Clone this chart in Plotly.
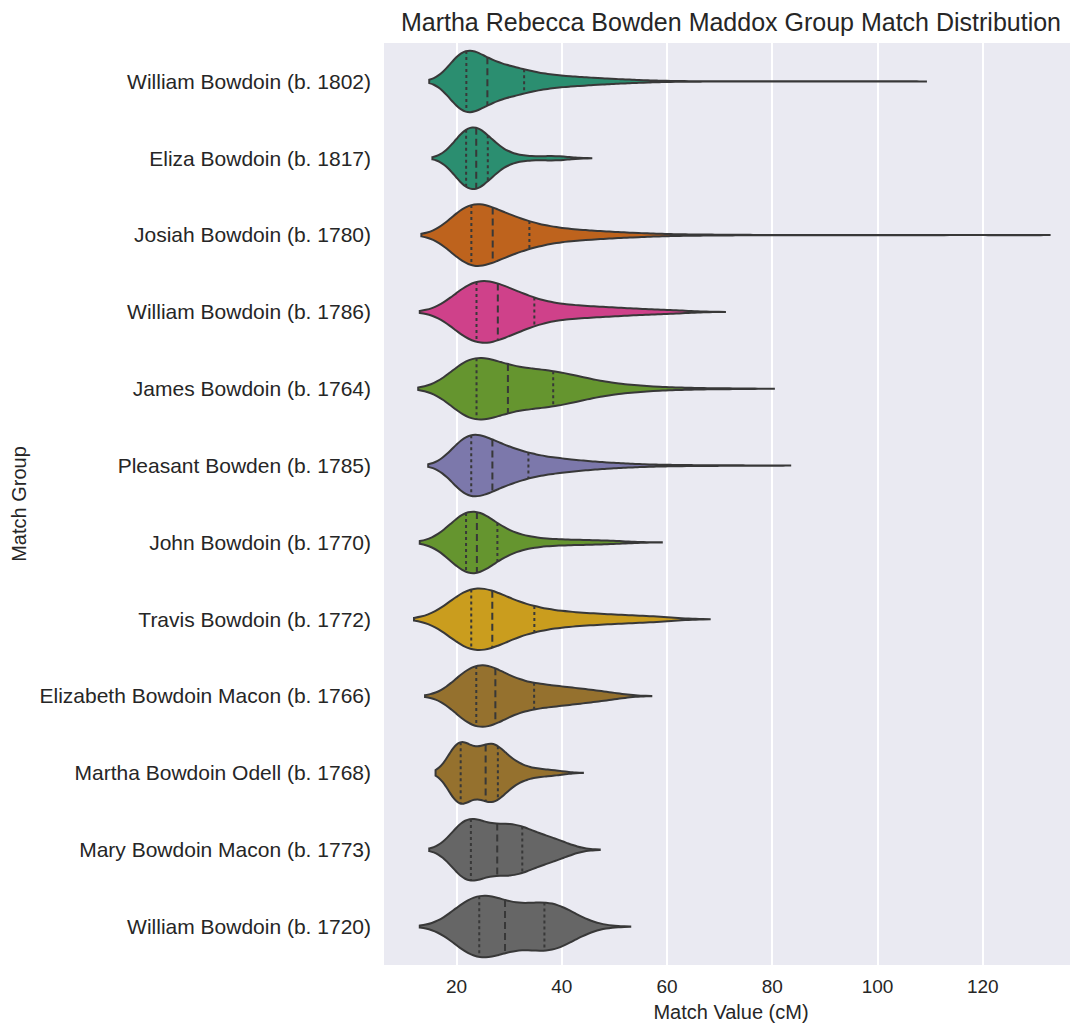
import colorsys
import math
import numpy as np
import plotly.graph_objects as go

# ---------------- data (value in cM, number of matches) ----------------
GROUPS = [
    "William Bowdoin (b. 1802)",
    "Eliza Bowdoin (b. 1817)",
    "Josiah Bowdoin (b. 1780)",
    "William Bowdoin (b. 1786)",
    "James Bowdoin (b. 1764)",
    "Pleasant Bowden (b. 1785)",
    "John Bowdoin (b. 1770)",
    "Travis Bowdoin (b. 1772)",
    "Elizabeth Bowdoin Macon (b. 1766)",
    "Martha Bowdoin Odell (b. 1768)",
    "Mary Bowdoin Macon (b. 1773)",
    "William Bowdoin (b. 1720)",
]

WILLIAM_1802 = [(20, 66), (21, 69), (22, 48), (23, 39), (24, 38), (25, 33), (26, 30), (27, 25), (28, 23),
                (29, 21), (30, 20), (31, 19), (32, 19), (33, 16), (34, 12), (35, 11), (36, 10), (37, 10),
                (38, 9), (39, 8), (40, 7), (41, 7), (42, 6), (43, 6), (44, 6), (45, 5), (46, 5), (47, 4),
                (48, 4), (49, 3), (50, 3), (51, 3), (52, 3), (53, 2), (54, 2), (55, 2), (56, 1), (57, 1),
                (58, 1), (59, 1), (60, 1), (62, 1), (65, 1), (69, 1), (74, 1), (80, 1), (88, 1), (96, 1),
                (104, 1)]
ELIZA_1817 = [(20, 40), (21, 44), (22, 52), (23, 52), (24, 52), (25, 48), (26, 28), (27, 20), (28, 14),
              (29, 10), (30, 6), (31, 4), (32, 4), (33, 3), (34, 2), (35, 2), (36, 2), (37, 3), (38, 4),
              (39, 4), (40, 4), (41, 2)]
JOSIAH_1780 = [(20, 38), (21, 39), (22, 39), (23, 33), (24, 33), (25, 31), (26, 30), (27, 25), (28, 22),
               (29, 20), (30, 18), (31, 17), (32, 15), (33, 14), (34, 12), (35, 10), (36, 9), (37, 8),
               (38, 7), (39, 7), (40, 6), (41, 6), (42, 5), (43, 5), (44, 5), (45, 4), (46, 4), (47, 4),
               (48, 3), (49, 3), (50, 3), (51, 3), (52, 2), (53, 2), (54, 2), (55, 2), (56, 2), (57, 1),
               (58, 1), (59, 1), (60, 1), (61, 1), (62, 1), (64, 1), (66, 1), (68, 1), (70, 1), (74, 1),
               (80, 1), (88, 1), (97, 1), (108, 1), (126, 1)]
WILLIAM_1786 = [(20, 28), (21, 29), (22, 30), (23, 31), (24, 32), (25, 32), (26, 33), (27, 31), (28, 24),
                (29, 22), (30, 20), (31, 19), (32, 17), (33, 16), (34, 14), (35, 11), (36, 8), (37, 8),
                (38, 7), (39, 7), (40, 7), (41, 6), (42, 6), (43, 6), (44, 5), (45, 5), (46, 5), (47, 5),
                (48, 4), (49, 4), (50, 4), (51, 4), (52, 3), (53, 3), (54, 3), (55, 3), (56, 2), (57, 2),
                (58, 2), (59, 2), (60, 2), (61, 2), (62, 2), (63, 1), (64, 1)]
JAMES_1764 = [(20, 27), (21, 29), (22, 30), (23, 31), (24, 28), (25, 24), (26, 22), (27, 20), (28, 18),
              (29, 17), (30, 16), (31, 15), (32, 15), (33, 15), (34, 14), (35, 14), (36, 14), (37, 14),
              (38, 14), (39, 13), (40, 13), (41, 11), (42, 10), (43, 9), (44, 8), (45, 7), (46, 6),
              (47, 6), (48, 5), (49, 4), (50, 4), (51, 3), (52, 3), (53, 3), (54, 2), (55, 2), (56, 2),
              (57, 2), (58, 1), (59, 1), (60, 1), (61, 1), (62, 1), (63, 1), (65, 1), (67, 1), (70, 1),
              (73, 1)]
PLEASANT_1785 = [(20, 38), (21, 39), (22, 39), (23, 33), (24, 33), (25, 31), (26, 30), (27, 25), (28, 22),
                 (29, 20), (30, 18), (31, 17), (32, 15), (33, 14), (34, 12), (35, 10), (36, 9), (37, 9),
                 (38, 8), (39, 8), (40, 7), (41, 7), (42, 6), (43, 5), (44, 5), (45, 4), (46, 4), (47, 4),
                 (48, 3), (49, 3), (50, 3), (51, 2), (52, 2), (53, 2), (54, 2), (55, 1), (56, 1), (57, 1),
                 (58, 1), (59, 1), (60, 1), (62, 1), (64, 1), (66, 1), (69, 1), (73, 1), (78, 1)]
JOHN_1770 = [(20, 52), (21, 55), (22, 62), (23, 62), (24, 55), (25, 38), (26, 28), (27, 20), (28, 15),
             (29, 14), (30, 12), (31, 10), (32, 8), (33, 7), (34, 6), (35, 5), (36, 4), (37, 4), (38, 4),
             (39, 4), (40, 4), (41, 3), (42, 3), (43, 3), (44, 3), (45, 3), (46, 3), (47, 3), (48, 3),
             (49, 2), (50, 2), (51, 2), (52, 2)]
TRAVIS_1772 = [(20, 37), (21, 39), (22, 40), (23, 33), (24, 33), (25, 32), (26, 30), (27, 23), (28, 21),
               (29, 18), (30, 16), (31, 15), (32, 13), (33, 12), (34, 11), (35, 10), (36, 8), (37, 8),
               (38, 7), (39, 7), (40, 7), (41, 6), (42, 6), (43, 6), (44, 5), (45, 5), (46, 5), (47, 5),
               (48, 4), (49, 4), (50, 4), (51, 4), (52, 3), (53, 3), (54, 3), (55, 3), (56, 3), (57, 3),
               (58, 3), (59, 3), (60, 3)]
ELIZABETH_1766 = [(20, 27), (21, 30), (22, 31), (23, 33), (24, 35), (25, 37), (26, 36), (27, 34), (28, 25),
                  (29, 21), (30, 18), (31, 16), (32, 15), (33, 14), (34, 13), (35, 12), (36, 12), (37, 11),
                  (38, 11), (39, 10), (40, 10), (41, 9), (42, 8), (43, 8), (44, 7), (45, 7), (46, 6),
                  (47, 5), (48, 5), (49, 4), (50, 4), (51, 3)]
MARTHA_1768 = [(20, 115), (21, 35), (22, 30), (23, 27), (24, 25), (25, 16), (26, 55), (27, 62), (28, 25),
               (29, 25), (30, 20), (31, 14), (32, 10), (33, 8), (34, 6), (35, 5), (36, 5), (37, 4), (38, 4),
               (39, 4), (40, 3)]
MARY_1773 = [(20, 35), (21, 40), (22, 43), (23, 35), (24, 28), (25, 23), (26, 21), (27, 21), (28, 23),
             (29, 26), (30, 28), (31, 28), (32, 26), (33, 20), (34, 18), (35, 16), (36, 15), (37, 13),
             (38, 12), (39, 11), (40, 10), (41, 7), (42, 3)]
WILLIAM_1720 = [(20, 22), (21, 25), (22, 27), (23, 28), (24, 28), (25, 28), (26, 27), (27, 26), (28, 24),
                (29, 20), (30, 16), (31, 14), (32, 13), (33, 14), (34, 16), (35, 19), (36, 22), (37, 24),
                (38, 24), (39, 22), (40, 18), (41, 14), (42, 10), (43, 7), (44, 5), (45, 3), (46, 2)]

GROUP_DATA = [WILLIAM_1802, ELIZA_1817, JOSIAH_1780, WILLIAM_1786, JAMES_1764, PLEASANT_1785,
              JOHN_1770, TRAVIS_1772, ELIZABETH_1766, MARTHA_1768, MARY_1773, WILLIAM_1720]

BANDWIDTHS = [2.6, 2.3, 3.35, 3.5, 3.65, 2.7, 3.5, 4.05, 3.0, 2.0, 2.6, 3.5]

BASE_COLORS = ["#1b9e77", "#1b9e77", "#d95f02", "#e7298a", "#66a61e", "#7570b3",
               "#66a61e", "#e6ab02", "#a6761d", "#a6761d", "#666666", "#666666"]

TITLE = "Martha Rebecca Bowden Maddox Group Match Distribution"
X_TITLE = "Match Value (cM)"
Y_TITLE = "Match Group"
X_TICKS = [20, 40, 60, 80, 100, 120]


# ---------------- helpers ----------------
def desaturate(hexc, prop=0.75):
    r, g, b = [int(hexc[i:i + 2], 16) / 255 for i in (1, 3, 5)]
    h, l, s = colorsys.rgb_to_hls(r, g, b)
    r, g, b = colorsys.hls_to_rgb(h, l, s * prop)
    return "#%02x%02x%02x" % tuple(int(round(c * 255)) for c in (r, g, b))


def lightness(hexc):
    r, g, b = [int(hexc[i:i + 2], 16) / 255 for i in (1, 3, 5)]
    return colorsys.rgb_to_hls(r, g, b)[1]


def grouped_quantile(pairs, p):
    n = sum(c for _, c in pairs)
    target = p * n
    cum = 0
    for v, c in pairs:
        if cum + c >= target:
            return v - 0.5 + (target - cum) / c
        cum += c
    return pairs[-1][0]


def kde(samples, bw, t):
    t = np.atleast_1d(np.asarray(t, dtype=float))
    z = (t[:, None] - samples[None, :]) / bw
    return np.exp(-0.5 * z * z).sum(axis=1) / (len(samples) * bw * math.sqrt(2 * math.pi))


colors = [desaturate(c) for c in BASE_COLORS]
lum = min(lightness(c) for c in colors) * 0.6
LINE_GRAY = "#%02x%02x%02x" % ((int(round(lum * 255)),) * 3)
TEXT = "#262626"
FONT = "Liberation Sans, Arial, sans-serif"
VIOLIN_WIDTH = 0.8

# the page body has an 8px margin; the figure is sized to fill the rest of the window
FIG_W, FIG_H = 1070, 1018

fig = go.Figure()
shapes = []

for i, (name, pairs, bw, col) in enumerate(zip(GROUPS, GROUP_DATA, BANDWIDTHS, colors)):
    vals = np.array([v for v, _ in pairs], dtype=float)
    cnts = np.array([c for _, c in pairs], dtype=int)
    samples = np.repeat(vals, cnts)

    fig.add_trace(go.Violin(
        x=samples, y=[name] * len(samples), orientation="h",
        bandwidth=bw, spanmode="soft", scalemode="width", width=VIOLIN_WIDTH,
        points=False, box_visible=False, meanline_visible=False,
        fillcolor=col, line=dict(color=LINE_GRAY, width=2), opacity=1,
        showlegend=False, hoverinfo="skip", name=name,
    ))

    # density grid like plotly's, to scale the quartile lines to the violin outline
    lo, hi = samples.min() - 2 * bw, samples.max() + 2 * bw
    n = math.ceil((hi - lo) / (bw / 3))
    grid = lo + (hi - lo) / n * np.arange(n + 1)
    max_d = kde(samples, bw, grid).max()

    for p, dash in ((0.25, "3px,3px"), (0.5, "7px,4px"), (0.75, "3px,3px")):
        q = grouped_quantile(pairs, p)
        half = VIOLIN_WIDTH / 2 * kde(samples, bw, q)[0] / max_d
        shapes.append(dict(type="line", xref="x", yref="y", x0=q, x1=q,
                           y0=i - half, y1=i + half,
                           line=dict(color=LINE_GRAY, width=2, dash=dash)))

fig.update_layout(
    width=FIG_W, height=FIG_H,
    margin=dict(l=376, r=0, t=35, b=61),
    paper_bgcolor="white", plot_bgcolor="#EAEAF2",
    violinmode="overlay",
    font=dict(family=FONT, color=TEXT, size=20),
    title=dict(text=TITLE, x=0.5, xref="paper", y=1 - 14 / FIG_H, yref="container",
               yanchor="middle", xanchor="center", font=dict(size=25, color=TEXT, family=FONT)),
    shapes=shapes,
    xaxis=dict(range=[6.2, 138.1], tickvals=X_TICKS, showgrid=True, gridcolor="white", gridwidth=1.5,
               zeroline=False, showline=False, ticks="", ticklabelstandoff=8,
               tickfont=dict(size=19, color=TEXT),
               title=dict(text=X_TITLE, font=dict(size=20, color=TEXT), standoff=8)),
    yaxis=dict(type="category", categoryorder="array", categoryarray=GROUPS, range=[11.5, -0.5],
               showgrid=False, zeroline=False, showline=False, ticks="", ticklabelstandoff=12,
               tickfont=dict(size=21, color=TEXT),
               title=dict(text=Y_TITLE, font=dict(size=20, color=TEXT), standoff=9)),
)

fig.write_html("out.html")
